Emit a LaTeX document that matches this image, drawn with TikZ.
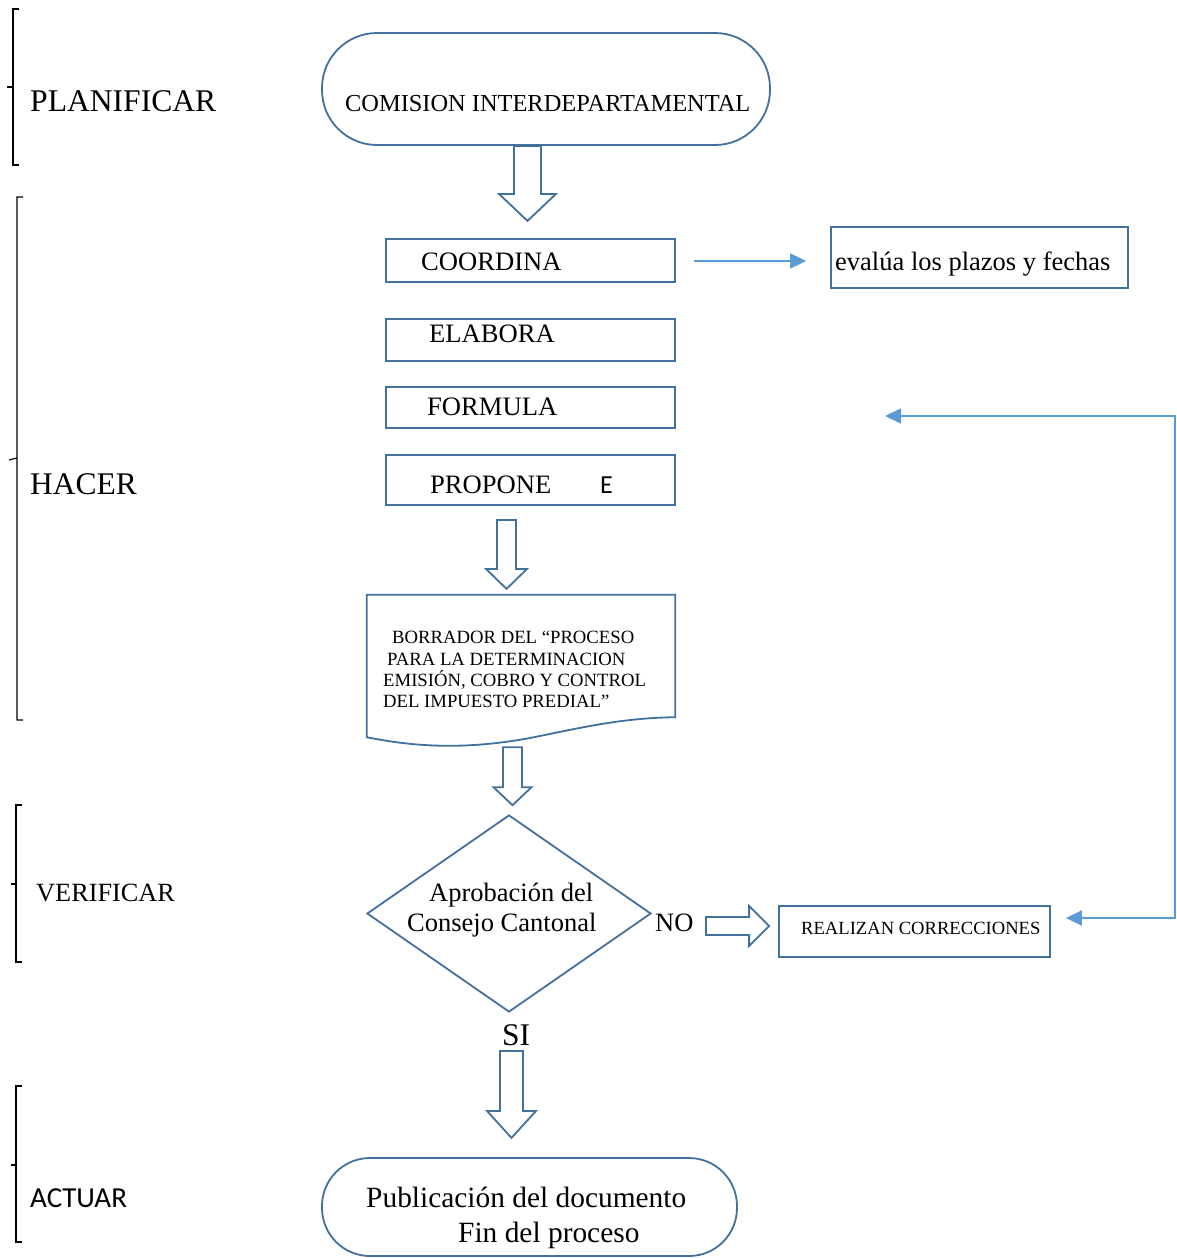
\documentclass[tikz,border=0pt]{standalone}
\usepackage{fontspec}
\setmainfont{Liberation Serif}
\newfontfamily\calfont{Carlito}
\usetikzlibrary{calc,arrows.meta,shapes.geometric}
\definecolor{shapeblue}{RGB}{65,113,156}
\definecolor{connblue}{RGB}{91,155,213}
\newcommand{\blkdown}[5]{\draw[blk] ($(#1)+(-#3,0)$) -- ($(#2)+(-#3,-#5)$) -- ($(#2)+(-#4,-#5)$) -- (#2) -- ($(#2)+(#4,-#5)$) -- ($(#2)+(#3,-#5)$) -- ($(#1)+(#3,0)$) -- cycle;}
\newcommand{\blkright}[5]{\draw[blk] ($(#1)+(0,-#3)$) -- ($(#2)+(-#5,-#3)$) -- ($(#2)+(-#5,-#4)$) -- (#2) -- ($(#2)+(-#5,#4)$) -- ($(#2)+(-#5,#3)$) -- ($(#1)+(0,#3)$) -- cycle;}
\tikzset{
  shp/.style={draw=shapeblue, line width=1.8pt, inner sep=0pt, fill=white},
  boxnode/.style={shp, rectangle, minimum width=#1},
  ghost/.style={inner sep=0pt, rectangle},
  txt/.style={anchor=base west, inner sep=0pt},
  blk/.style={draw=shapeblue, line width=1.8pt, line join=miter, fill=white},
  conn/.style={draw=connblue, line width=1.8pt},
  tipA/.tip={Triangle[length=16pt,width=15pt]},
  brk/.style={draw=black, line width=1.2pt},
  fs/.style={font=\fontsize{#1}{#1}\selectfont},
  cfs/.style={font=\calfont\fontsize{#1}{#1}\selectfont},
}
\begin{document}
\begin{tikzpicture}[x=1pt,y=-1pt]
\useasboundingbox[fill=white] (0,0) rectangle (1176,1258);

% brackets
\draw[brk] (19,9) -- (13,9) -- (13,165) -- (19,165) (13,87) -- (7,87);
\draw[brk] (23,197) -- (17,197) -- (17,720) -- (23,720) (17,458) -- (9,460);
\draw[brk] (22,805) -- (16,805) -- (16,962) -- (22,962) (16,884) -- (11,884);
\draw[brk] (22,1086) -- (16,1086) -- (16,1242) -- (22,1242) (16,1165) -- (11,1165);

% phase labels
\node[txt,fs=31.6] (lplan) at (30,111) {PLANIFICAR};
\node[txt,fs=31.5] (lhacer) at (30,494) {HACER};
\node[txt,fs=26.3] (lverif) at (36,901) {VERIFICAR};
\node[txt,cfs=29] (lactuar) at (30,1207) {ACTUAR};

% shapes
\node[shp, rectangle, rounded corners=55pt, minimum width=448pt, minimum height=112pt] (com) at (546,89) {};
\node[boxnode=289pt, minimum height=43pt] (coord) at (530.5,260.5) {};
\node[boxnode=297pt, minimum height=61pt] (eval) at (979.5,257.5) {};
\node[boxnode=289pt, minimum height=42pt] (elab) at (530.5,340) {};
\node[boxnode=289pt, minimum height=41pt] (form) at (530.5,407.5) {};
\node[boxnode=289pt, minimum height=50pt] (prop) at (530.5,480) {};
\node[ghost, minimum width=308pt, minimum height=142pt] (doc) at (521,666) {};
\draw[shp] (doc.north west) -- (doc.north east) -- ($(doc.south east)+(0,-20)$)
  .. controls (620,718) and (580,728) .. (530,738)
  .. controls (470,749) and (420,748) .. (doc.south west) -- cycle;
\node[shp, diamond, minimum width=284pt, minimum height=197pt] (dia) at (509,913.5) {};
\node[boxnode=271pt, minimum height=51pt] (corr) at (914.5,931.5) {};
\node[shp, rectangle, rounded corners=48pt, minimum width=415pt, minimum height=98pt] (pub) at (529.5,1207) {};

% texts
\node[txt,fs=24.4] (tcom) at (345,111) {COMISION INTERDEPARTAMENTAL};
\node[txt,fs=26.6] (tcoord) at (421,270) {COORDINA};
\node[txt,fs=26.5] (teval) at (835,270) {evalúa los plazos y fechas};
\node[txt,fs=26.6] (telab) at (429,342) {ELABORA};
\node[txt,fs=26.6] (tform) at (427,415) {FORMULA};
\node[txt,fs=26.6] (tprop) at (430,493) {PROPONE};
\node[txt,cfs=26] (tpropE) at (600,493) {E};
\node[txt,fs=18.7] (tdoc1) at (392,643) {BORRADOR DEL “PROCESO};
\node[txt,fs=18.7] (tdoc2) at (387,665) {PARA LA DETERMINACION};
\node[txt,fs=18.7] (tdoc3) at (383,686) {EMISIÓN, COBRO Y CONTROL};
\node[txt,fs=18.7] (tdoc4) at (383,707) {DEL IMPUESTO PREDIAL”};
\node[txt,fs=26.5] (tdia1) at (429,901) {Aprobación del};
\node[txt,fs=26.5] (tdia2) at (407,931) {Consejo Cantonal};
\node[txt,fs=26.5] (tno) at (655,931) {NO};
\node[txt,fs=31.5] (tsi) at (502,1045) {SI};
\node[txt,fs=18.6] (tcorr) at (801,934) {REALIZAN CORRECCIONES};
\node[txt,fs=29.4] (tpub1) at (366,1207) {Publicación del documento};
\node[txt,fs=29.4] (tpub2) at (458,1242) {Fin del proceso};

% block arrows
\coordinate (a1s) at ($(com.south)+(-18.5,0)$);
\coordinate (a1t) at ($(com.south)+(-18.5,75)$);
\blkdown{a1s}{a1t}{13.5}{28.5}{27}
\coordinate (a2s) at ($(prop.south)+(-24,14)$);
\coordinate (a2t) at ($(prop.south)+(-24,83)$);
\blkdown{a2s}{a2t}{9.5}{20.5}{20}
\coordinate (a3s) at ($(doc.south)+(-8.5,10)$);
\coordinate (a3t) at ($(doc.south)+(-8.5,68)$);
\blkdown{a3s}{a3t}{9.5}{19}{18}
\coordinate (a4s) at ($(dia.south)+(2.5,38)$);
\coordinate (a4t) at ($(dia.south)+(2.5,125)$);
\blkdown{a4s}{a4t}{11.5}{24.5}{27}
\coordinate (a5t) at ($(corr.west)+(-9,-5.5)$);
\coordinate (a5s) at ($(dia.east |- a5t)+(54,0)$);
\blkright{a5s}{a5t}{9}{20}{20}

% thin connectors
\draw[conn,-tipA] ($(coord.east)+(18,0.5)$) -- ($(eval.west)+(-24,3.5)$);
\coordinate (fb1) at (1175,918);
\coordinate (fb2) at (885,416);
\draw[conn,tipA-tipA] ($(corr.east)+(15,-13.5)$) -- (fb1) |- (fb2);
\end{tikzpicture}
\end{document}
